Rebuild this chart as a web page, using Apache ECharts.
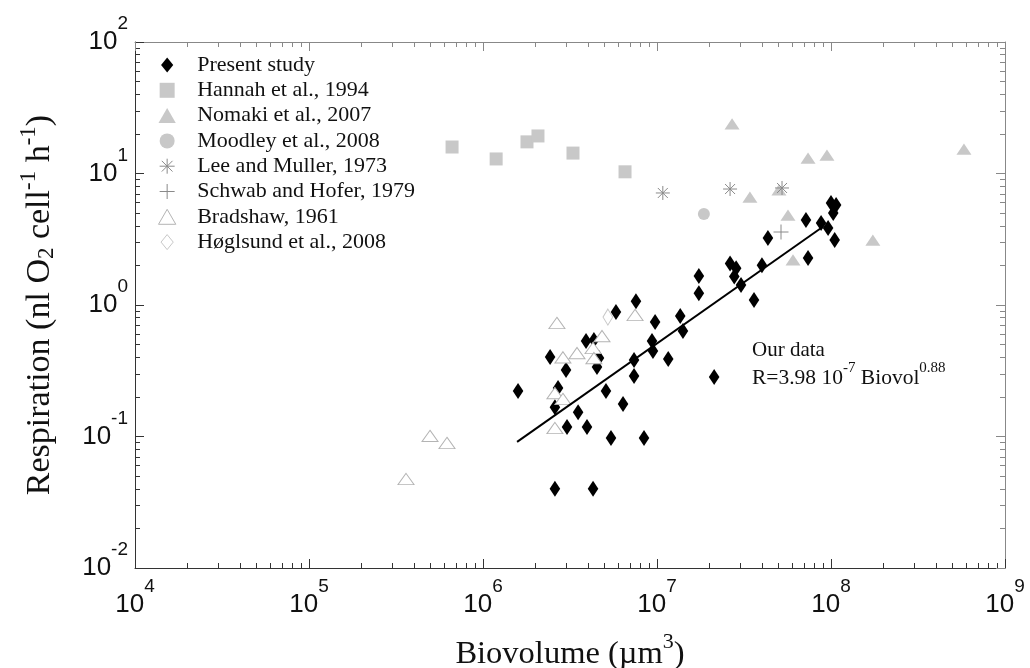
<!DOCTYPE html>
<html><head><meta charset="utf-8">
<script src="https://cdn.jsdelivr.net/npm/echarts@6.0.0/dist/echarts.min.js"></script>
<style>html,body{margin:0;padding:0;background:#fff}#c{width:1030px;height:668px}</style>
</head><body><div id="c"></div>
<script>
// ---- tick labels ----
const xTickValues = [1e4, 1e5, 1e6, 1e7, 1e8, 1e9];
const xTickExponents = ['4', '5', '6', '7', '8', '9'];
const yTickValues = [1e-2, 1e-1, 1, 10, 100];
const yTickExponents = ['-2', '-1', '0', '1', '2'];

// ---- series names ----
const seriesNames = ['Present study', 'Hannah et al., 1994', 'Nomaki et al., 2007', 'Moodley et al., 2008',
  'Lee and Muller, 1973', 'Schwab and Hofer, 1979', 'Bradshaw, 1961', 'Høglsund et al., 2008'];

// ---- data (biovolume µm³, respiration nl O2 cell-1 h-1) ----
const presentX = [1.59e6, 2.43e6, 2.59e6, 2.70e6, 2.59e6, 3.00e6, 3.04e6, 3.52e6, 3.91e6, 3.96e6,
  4.29e6, 4.52e6, 4.64e6, 4.34e6, 5.09e6, 5.44e6, 5.81e6, 6.38e6, 7.38e6, 7.38e6,
  7.57e6, 8.42e6, 9.36e6, 9.48e6, 9.75e6, 1.16e7, 1.36e7, 1.41e7, 1.74e7, 1.74e7,
  2.13e7, 2.63e7, 2.85e7, 2.78e7, 3.04e7, 3.61e7, 4.01e7, 4.34e7, 7.38e7, 7.18e7,
  8.77e7, 9.62e7, 1.05e8, 1.00e8, 1.07e8, 1.03e8];
const presentY = [0.222, 0.402, 0.167, 0.234, 0.040, 0.321, 0.118, 0.153, 0.532, 0.118,
  0.040, 0.338, 0.395, 0.542, 0.222, 0.0975, 0.885, 0.177, 0.382, 0.288,
  1.07, 0.0975, 0.532, 0.447, 0.743, 0.388, 0.824, 0.634, 1.66, 1.23,
  0.283, 2.07, 1.90, 1.65, 1.42, 1.09, 2.01, 3.23, 2.28, 4.43,
  4.2, 3.85, 3.12, 5.97, 5.75, 5.01];

const hannahX = [6.64e5, 1.19e6, 1.79e6, 2.07e6, 3.29e6, 6.55e6];
const hannahY = [15.9, 12.9, 17.4, 19.3, 14.3, 10.3];

const nomakiX = [2.7e7, 7.38e7, 9.48e7, 5.81e8, 3.42e7, 5.02e7, 5.66e7, 1.74e8, 6.05e7];
const nomakiY = [23.8, 13.1, 13.8, 15.3, 6.62, 7.5, 4.83, 3.12, 2.2];

const moodleyX = [1.86e7];
const moodleyY = [4.92];

const leeX = [1.08e7, 2.63e7, 5.23e7];
const leeY = [7.11, 7.62, 7.76];

const schwabX = [5.16e7];
const schwabY = [3.59];

const bradshawX = [4.96e5, 6.21e5, 3.61e5, 2.66e6, 2.88e6, 3.47e6, 2.59e6, 2.88e6, 2.59e6, 4.29e6, 4.34e6, 4.83e6, 7.48e6];
const bradshawY = [0.101, 0.0893, 0.0475, 0.73, 0.40, 0.431, 0.214, 0.193, 0.116, 0.471, 0.395, 0.58, 0.84];

const hoglsundX = [5.22e6];
const hoglsundY = [0.81];

const fitX = [1.57e6, 8.9e7];
const fitY = [0.091, 3.9];

// ---- helpers ----
const zip = (xs, ys) => xs.map((x, i) => [x, ys[i]]);
const minorX = []; for (let e = 4; e < 9; e++) for (let m = 2; m <= 9; m++) minorX.push(e + Math.log10(m));
const minorY = []; for (let e = -2; e < 2; e++) for (let m = 2; m <= 9; m++) minorY.push(e + Math.log10(m));

const diamondPath = 'path://M6.5,0L13,8L6.5,16L0,8Z';
const squarePath = 'path://M0,0L10,0L10,10L0,10Z';
const trianglePath = 'path://M7.5,0L15,13L0,13Z';
const asteriskPath = 'path://M7,0L7,14M0,7L14,7M2,2L12,12M2,12L12,2';
const plusPath = 'path://M7,0L7,14M0,7L14,7';

const GRAY = '#c8c8c8';
const tickRich = {
  n: { fontFamily: 'Liberation Sans', fontSize: 26, lineHeight: 26, color: '#111' },
  s: { fontFamily: 'Liberation Sans', fontSize: 19, lineHeight: 19, padding: [0, 0, 36, 0], color: '#111' }
};
function expLabel(values, exps) {
  return function (v) {
    let idx = 0, best = Infinity;
    values.forEach((t, i) => { const d = Math.abs(Math.log10(t) - Math.log10(v)); if (d < best) { best = d; idx = i; } });
    return '{n|10}{s|' + exps[idx] + '}';
  };
}

const styles = [
  { symbol: diamondPath, size: [13, 16], item: { color: '#000' }, z: 2 },
  { symbol: squarePath, size: 13, item: { color: GRAY }, z: 3 },
  { symbol: trianglePath, size: [15, 13], item: { color: GRAY }, z: 3 },
  { symbol: 'circle', size: 12, item: { color: GRAY }, z: 3 },
  { symbol: asteriskPath, size: 14, item: { color: 'transparent', borderColor: '#8a8a8a', borderWidth: 1 }, z: 4 },
  { symbol: plusPath, size: 15, item: { color: 'transparent', borderColor: '#8a8a8a', borderWidth: 1 }, z: 4 },
  { symbol: trianglePath, size: [16, 13], item: { color: '#fff', borderColor: '#b4b4b4', borderWidth: 1 }, z: 4 },
  { symbol: diamondPath, size: [12, 16], item: { color: '#fff', borderColor: '#c8c8c8', borderWidth: 1 }, z: 4 }
];
const datasets = [zip(presentX, presentY), zip(hannahX, hannahY), zip(nomakiX, nomakiY), zip(moodleyX, moodleyY),
  zip(leeX, leeY), zip(schwabX, schwabY), zip(bradshawX, bradshawY), zip(hoglsundX, hoglsundY)];

const scatterSeries = seriesNames.map((name, i) => ({
  name, type: 'scatter', data: datasets[i], symbol: styles[i].symbol, symbolSize: styles[i].size,
  symbolKeepAspect: true, itemStyle: Object.assign({ opacity: 1 }, styles[i].item), z: styles[i].z,
  emphasis: { disabled: true }, xAxisIndex: 0, yAxisIndex: 0
}));

const chart = echarts.init(document.getElementById('c'), null, { renderer: 'canvas' });
chart.setOption({
  animation: false,
  backgroundColor: '#fff',
  grid: { left: 135, right: 25, top: 42, bottom: 100, containLabel: false, outerBoundsMode: 'none' },
  legend: {
    orient: 'vertical', left: 158, top: 54, padding: 0, itemGap: 3.3, itemWidth: 50, itemHeight: 15,
    selectedMode: false,
    textStyle: { fontFamily: 'Liberation Serif', fontSize: 22, lineHeight: 20, color: '#111' },
    data: seriesNames.map((name, i) => ({ name, icon: styles[i].symbol, itemStyle: styles[i].item }))
  },
  xAxis: [
    { type: 'log', logBase: 10, min: 1e4, max: 1e9, position: 'bottom',
      axisLine: { show: true, onZero: false, lineStyle: { color: '#333', width: 1 } },
      axisTick: { show: true, inside: true, length: 9, lineStyle: { color: '#333' } },
      axisLabel: { margin: 24, formatter: expLabel(xTickValues, xTickExponents), rich: tickRich, showMinLabel: true, showMaxLabel: true },
      splitLine: { show: false },
      name: 'Biovolume (µm{s|3})', nameLocation: 'middle', nameGap: 70, nameMoveOverlap: false,
      nameTextStyle: { fontFamily: 'Liberation Serif', fontSize: 32.5, lineHeight: 33, color: '#111',
        rich: { s: { fontFamily: 'Liberation Serif', fontSize: 22, lineHeight: 22, padding: [0, 0, 24, 0], color: '#111' } } } },
    { type: 'value', min: 4, max: 9, position: 'bottom',
      axisLine: { show: false, onZero: false }, axisLabel: { show: false }, splitLine: { show: false },
      axisTick: { show: true, inside: true, length: 5, customValues: minorX, lineStyle: { color: '#333' } } },
    { type: 'log', logBase: 10, min: 1e4, max: 1e9, position: 'top',
      axisLine: { show: true, onZero: false, lineStyle: { color: '#888', width: 1 } },
      axisTick: { show: true, inside: true, length: 9, lineStyle: { color: '#888' } },
      axisLabel: { show: false }, splitLine: { show: false } },
    { type: 'value', min: 4, max: 9, position: 'top',
      axisLine: { show: false, onZero: false }, axisLabel: { show: false }, splitLine: { show: false },
      axisTick: { show: true, inside: true, length: 5, customValues: minorX, lineStyle: { color: '#888' } } }
  ],
  yAxis: [
    { type: 'log', logBase: 10, min: 1e-2, max: 1e2, position: 'left',
      axisLine: { show: true, onZero: false, lineStyle: { color: '#333', width: 1 } },
      axisTick: { show: true, inside: true, length: 9, lineStyle: { color: '#333' } },
      axisLabel: { margin: 7, formatter: expLabel(yTickValues, yTickExponents), rich: tickRich, showMinLabel: true, showMaxLabel: true },
      splitLine: { show: false },
      name: 'Respiration (nl O{sub|2} cell{sup|-1} h{sup|-1})', nameLocation: 'middle', nameGap: 78, nameRotate: 90,
      nameTextStyle: { fontFamily: 'Liberation Serif', fontSize: 34, lineHeight: 34, color: '#111',
        rich: {
          sub: { fontFamily: 'Liberation Serif', fontSize: 23, lineHeight: 23, padding: [14, 0, 0, 0], color: '#111' },
          sup: { fontFamily: 'Liberation Serif', fontSize: 23, lineHeight: 23, padding: [0, 0, 22, 0], color: '#111' }
        } } },
    { type: 'value', min: -2, max: 2, position: 'left',
      axisLine: { show: false, onZero: false }, axisLabel: { show: false }, splitLine: { show: false },
      axisTick: { show: true, inside: true, length: 5, customValues: minorY, lineStyle: { color: '#333' } } },
    { type: 'log', logBase: 10, min: 1e-2, max: 1e2, position: 'right',
      axisLine: { show: true, onZero: false, lineStyle: { color: '#888', width: 1 } },
      axisTick: { show: true, inside: true, length: 9, lineStyle: { color: '#888' } },
      axisLabel: { show: false }, splitLine: { show: false } },
    { type: 'value', min: -2, max: 2, position: 'right',
      axisLine: { show: false, onZero: false }, axisLabel: { show: false }, splitLine: { show: false },
      axisTick: { show: true, inside: true, length: 5, customValues: minorY, lineStyle: { color: '#888' } } }
  ],
  graphic: [
    { type: 'text', x: 752, y: 350, silent: true,
      style: { text: 'Our data', fontFamily: 'Liberation Serif', fontSize: 21, fill: '#111', align: 'left', verticalAlign: 'middle' } },
    { type: 'text', x: 752, y: 378, silent: true,
      style: { text: 'R=3.98 10{s|-7} Biovol{s|0.88}', fontFamily: 'Liberation Serif', fontSize: 21.5, fill: '#111',
        align: 'left', verticalAlign: 'middle',
        rich: { s: { fontFamily: 'Liberation Serif', fontSize: 15, lineHeight: 15, padding: [0, 0, 20, 0], fill: '#111', color: '#111' } } } }
  ],
  series: scatterSeries.concat([
    { name: 'fit', type: 'line', data: zip(fitX, fitY), symbol: 'none', xAxisIndex: 0, yAxisIndex: 0,
      lineStyle: { color: '#000', width: 2 }, z: 6, emphasis: { disabled: true }, silent: true }
  ])
});
</script></body></html>
